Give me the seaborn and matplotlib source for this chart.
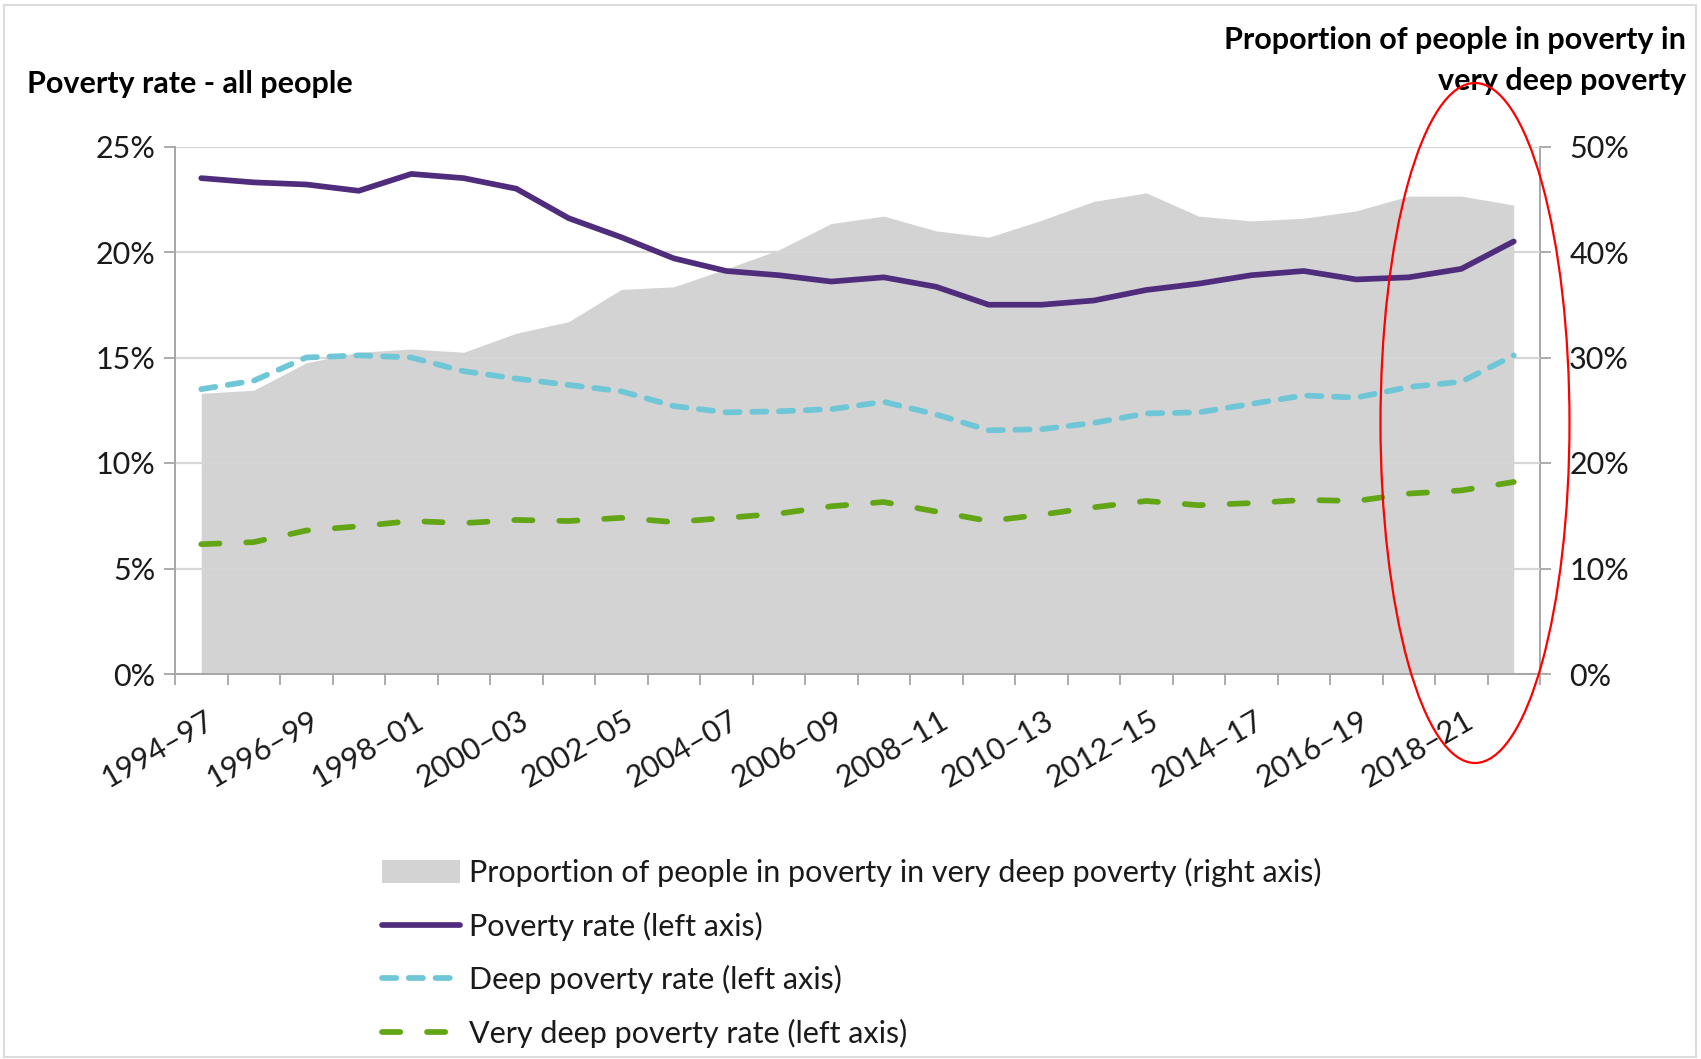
import numpy as np
import pandas as pd
import matplotlib
matplotlib.use("Agg")
import matplotlib.pyplot as plt
import seaborn as sns
from matplotlib.patches import Rectangle, Patch, Ellipse
from matplotlib.lines import Line2D
from matplotlib.ticker import FuncFormatter
from matplotlib.transforms import ScaledTranslation

# ---------------- data ----------------
periods = ["1994–97", "1995–98", "1996–99", "1997–00", "1998–01", "1999–02",
           "2000–03", "2001–04", "2002–05", "2003–06", "2004–07", "2005–08",
           "2006–09", "2007–10", "2008–11", "2009–12", "2010–13", "2011–14",
           "2012–15", "2013–16", "2014–17", "2015–18", "2016–19", "2017–20",
           "2018–21", "2019–22"]
poverty_rate = [23.5, 23.3, 23.2, 22.9, 23.7, 23.5, 23.0, 21.6, 20.7, 19.7,
                19.1, 18.9, 18.6, 18.8, 18.35, 17.5, 17.5, 17.7, 18.2, 18.5,
                18.9, 19.1, 18.7, 18.8, 19.2, 20.5]
deep_rate = [13.5, 13.9, 15.0, 15.1, 15.0, 14.35, 14.0, 13.7, 13.4, 12.7,
             12.4, 12.45, 12.55, 12.9, 12.3, 11.55, 11.6, 11.9, 12.35, 12.4,
             12.8, 13.2, 13.1, 13.6, 13.85, 15.1]
very_deep_rate = [6.15, 6.25, 6.8, 7.0, 7.25, 7.15, 7.3, 7.25, 7.4, 7.2,
                  7.4, 7.6, 7.95, 8.15, 7.7, 7.25, 7.55, 7.9, 8.2, 8.0,
                  8.1, 8.25, 8.2, 8.55, 8.7, 9.1]
share_very_deep = [26.6, 26.9, 29.5, 30.5, 30.8, 30.5, 32.3, 33.4, 36.45, 36.7,
                   38.4, 40.2, 42.7, 43.4, 42.0, 41.4, 43.0, 44.8, 45.6, 43.4,
                   42.95, 43.2, 43.9, 45.3, 45.3, 44.45]
label_every = 2

left_title = "Poverty rate - all people"
right_title_1 = "Proportion of people in poverty in"
right_title_2 = "very deep poverty"
legend_labels = ["Proportion of people in poverty in very deep poverty (right axis)",
                 "Poverty rate (left axis)",
                 "Deep poverty rate (left axis)",
                 "Very deep poverty rate (left axis)"]

# ---------------- style ----------------
sns.set_theme(style="white")
plt.rcParams["font.family"] = ["Lato", "DejaVu Sans"]

PURPLE = "#502c7c"
CYAN = "#6ec6d6"
GREEN = "#62a515"
AREA = "#d3d3d3"
GRID = "#d6d6d6"
AXC = "#a6a6a6"
TXT = "#1a1a1a"
FS = 22

W, H = 1701, 1059
fig = plt.figure(figsize=(W / 100, H / 100), dpi=100)

def fx(px):
    return px / W

def fy(py):
    return 1 - py / H

ax_l, ax_r, ax_t, ax_b = 175, 1540, 146.5, 674
ax = fig.add_axes([fx(ax_l), fy(ax_b), fx(ax_r - ax_l), (ax_b - ax_t) / H])
ax2 = ax.twinx()

n = len(periods)
df = pd.DataFrame({
    "idx": np.arange(n),
    "period": periods,
    "poverty": poverty_rate,
    "deep": deep_rate,
    "very_deep": very_deep_rate,
    "share": share_very_deep,
})

# area on right axis
ax2.fill_between(df["idx"], 0, df["share"], color=AREA, lw=0, zorder=1)

# lines on left axis
lw = 4.1
CYAN_D = (2.5, 2.2)
GREEN_D = (3.2, 4.7)
sns.lineplot(data=df, x="idx", y="poverty", ax=ax, color=PURPLE, lw=lw, zorder=5)
sns.lineplot(data=df, x="idx", y="deep", ax=ax, color=CYAN, lw=lw, zorder=5)
sns.lineplot(data=df, x="idx", y="very_deep", ax=ax, color=GREEN, lw=lw, zorder=5)
lines = ax.get_lines()
lines[0].set_solid_joinstyle("round")
for ln, d in ((lines[1], CYAN_D), (lines[2], GREEN_D)):
    ln.set_dashes(d)
    ln.set_dash_capstyle("round")
    ln.set_dash_joinstyle("round")

ax.set_zorder(ax2.get_zorder() + 1)
ax.patch.set_visible(False)

ax.set_xlim(-0.5, n - 0.5)
ax.set_ylim(0, 25)
ax2.set_ylim(0, 50)
ax.set_xlabel("")
ax.set_ylabel("")
ax2.set_ylabel("")

ax.set_yticks(np.arange(0, 26, 5))
ax2.set_yticks(np.arange(0, 51, 10))
pct = FuncFormatter(lambda v, p: f"{v:.0f}%")
ax.yaxis.set_major_formatter(pct)
ax2.yaxis.set_major_formatter(pct)

ax.grid(axis="y", color=GRID, lw=1.6, zorder=2)
ax.grid(axis="x", visible=False)
ax2.grid(False)
ax.set_axisbelow(True)

# x ticks at category boundaries, labels at every other category centre
ax.set_xticks(np.arange(-0.5, n, 1))
ax.set_xticklabels([])
ax.set_xticks(np.arange(0, n, label_every), minor=True)
ax.set_xticklabels(periods[::label_every], minor=True, rotation=30,
                   ha="right", va="center", rotation_mode="anchor")
ax.tick_params(axis="x", which="major", direction="out", length=8, width=1.3,
               color=AXC, bottom=True)
ax.tick_params(axis="x", which="minor", length=0, pad=32, labelsize=FS,
               labelcolor=TXT, bottom=True)
shift = ScaledTranslation(10 / 100, 0, fig.dpi_scale_trans)
for lab in ax.get_xticklabels(minor=True):
    lab.set_transform(lab.get_transform() + shift)
ax.tick_params(axis="y", direction="out", length=8, width=1.3, color=AXC,
               labelsize=FS, labelcolor=TXT, pad=6, left=True)
ax2.tick_params(axis="y", direction="out", length=8, width=1.3, color=AXC,
                labelsize=FS, labelcolor=TXT, pad=13, right=True)

for a in (ax, ax2):
    a.spines["top"].set_visible(False)
    for s in ("left", "right", "bottom"):
        a.spines[s].set_color(AXC)
        a.spines[s].set_linewidth(1.4)
ax.spines["right"].set_visible(False)
ax2.spines["left"].set_visible(False)
ax2.spines["bottom"].set_visible(False)

# titles
fig.text(fx(27), fy(84), left_title, ha="left", va="center", fontsize=FS,
         fontweight="bold", color="black")
fig.text(fx(1686), fy(40), right_title_1, ha="right", va="center", fontsize=FS,
         fontweight="bold", color="black")
fig.text(fx(1686), fy(81), right_title_2, ha="right", va="center", fontsize=FS,
         fontweight="bold", color="black")

# legend
handles = [
    Patch(facecolor=AREA, edgecolor="none"),
    Line2D([], [], color=PURPLE, lw=lw),
    Line2D([], [], color=CYAN, lw=lw, dashes=CYAN_D, dash_capstyle="round"),
    Line2D([], [], color=GREEN, lw=lw, dashes=GREEN_D, dash_capstyle="round"),
]
fig.legend(handles, legend_labels, loc="upper left",
           bbox_to_anchor=(fx(382), fy(858)), frameon=False, fontsize=FS,
           handlelength=2.55, handleheight=0.75, handletextpad=0.3,
           labelspacing=0.8, borderpad=0, borderaxespad=0,
           labelcolor=TXT)

# red highlight ellipse (annotation)
fig.patches.append(Ellipse((fx(1475), fy(423)), fx(189), 680 / H,
                           transform=fig.transFigure, fill=False,
                           edgecolor="#ff0000", lw=1.6, zorder=10))

# figure border
fig.patches.append(Rectangle((fx(4), fy(1057)), fx(1696 - 4), (1057 - 5) / H,
                             transform=fig.transFigure, fill=False,
                             edgecolor="#dcdcdc", lw=1.5))

fig.savefig("out.png", dpi=100)
